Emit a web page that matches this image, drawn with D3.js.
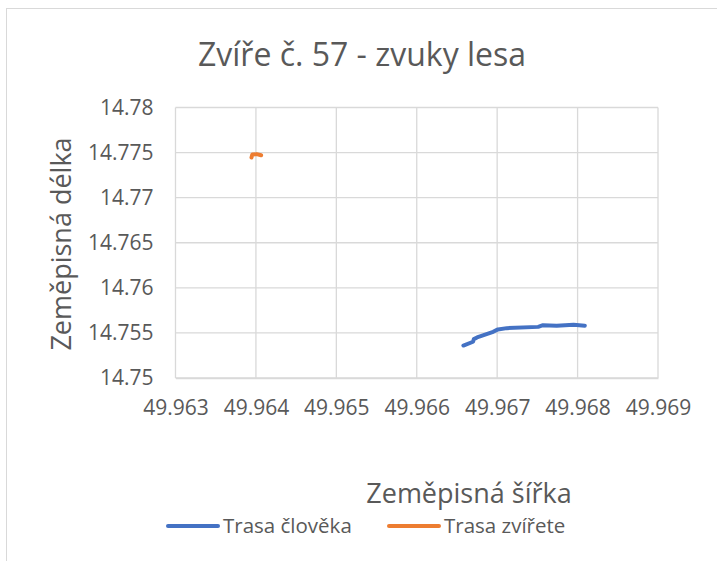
<!DOCTYPE html>
<html>
<head>
<meta charset="utf-8">
<script src="https://cdn.jsdelivr.net/npm/d3@7"></script>
<style>
body { margin:0; background:#fff; }
text { font-family:"Open Sans", sans-serif; fill:#595959; }
</style>
</head>
<body>
<svg id="chart"></svg>
<script>
//human track (latitude, longitude)
var humanLat = [49.96658, 49.96670, 49.96671, 49.96675, 49.96695, 49.96701, 49.96712, 49.96751, 49.96757, 49.96774, 49.96795, 49.96809]
var humanLon = [14.75360, 14.75402, 14.75431, 14.75450, 14.75512, 14.75539, 14.75553, 14.75567, 14.75586, 14.75579, 14.75590, 14.75580]

//animal track
var animalLat = [49.963945, 49.963955, 49.964010, 49.964065]
var animalLon = [14.77445, 14.77478, 14.77483, 14.77470]

//tick values
var xTicks = [49.963, 49.964, 49.965, 49.966, 49.967, 49.968, 49.969]
var yTicks = [14.75, 14.755, 14.76, 14.765, 14.77, 14.775, 14.78]

var seriesNames = ["Trasa člověka", "Trasa zvířete"]
var seriesColors = ["#4472C4", "#ED7D31"]

var screen = {width:717, height:561};
var margins = {top:107.5, left:175.5, right:59, bottom:183};
var graph =
{
    width:screen.width-margins.left-margins.right,
    height:screen.height-margins.top-margins.bottom
}

var svg = d3.select("#chart")
    .attr("width",screen.width)
    .attr("height",screen.height)

//outer chart border (right and bottom are off the picture)
svg.append("rect")
    .attr("x",6.5)
    .attr("y",8.5)
    .attr("width",900)
    .attr("height",900)
    .attr("fill","none")
    .attr("stroke","#d9d9d9")

var xScale = d3.scaleLinear()
    .domain([49.963,49.969])
    .range([0,graph.width])

var yScale = d3.scaleLinear()
    .domain([14.75,14.78])
    .range([graph.height,0])

var g = svg.append("g")
    .attr("transform","translate("+margins.left+","+margins.top+")")

//gridlines
g.append("g")
    .selectAll("line")
    .data(xTicks)
    .enter()
    .append("line")
    .attr("x1",function(d){return xScale(d)})
    .attr("x2",function(d){return xScale(d)})
    .attr("y1",0)
    .attr("y2",graph.height)
    .attr("stroke","#d9d9d9")
    .attr("stroke-width",1.3)

g.append("g")
    .selectAll("line")
    .data(yTicks)
    .enter()
    .append("line")
    .attr("x1",0)
    .attr("x2",graph.width)
    .attr("y1",function(d){return yScale(d)})
    .attr("y2",function(d){return yScale(d)})
    .attr("stroke","#d9d9d9")
    .attr("stroke-width",1.3)

//axes
var xAxis = d3.axisBottom(xScale)
    .tickValues(xTicks)
    .tickSize(0)
    .tickPadding(22)
    .tickFormat(d3.format(".3f"))

var yAxis = d3.axisLeft(yScale)
    .tickValues(yTicks)
    .tickSize(0)
    .tickPadding(22)
    .tickFormat(function(d){return String(+d.toFixed(3))})

var xg = g.append("g")
    .attr("transform","translate(0,"+graph.height+")")
    .call(xAxis)
xg.select(".domain").attr("stroke","#d9d9d9").attr("stroke-width",1.3)

var yg = g.append("g").call(yAxis)
yg.select(".domain").remove()

g.selectAll(".tick text")
    .style("font-family","'Open Sans', sans-serif")
    .style("font-size","21px")
    .attr("fill","#595959")

//tracks
var line = d3.line()
    .x(function(d){return xScale(d[0])})
    .y(function(d){return yScale(d[1])})

var tracks = [d3.zip(humanLat,humanLon), d3.zip(animalLat,animalLon)]

g.selectAll(".track")
    .data(tracks)
    .enter()
    .append("path")
    .attr("class","track")
    .attr("d",line)
    .attr("fill","none")
    .attr("stroke",function(d,i){return seriesColors[i]})
    .attr("stroke-width",4)
    .attr("stroke-linecap","round")
    .attr("stroke-linejoin","round")

//title
svg.append("text")
    .attr("x",362)
    .attr("y",66)
    .attr("text-anchor","middle")
    .style("font-size","32px")
    .text("Zvíře č. 57 - zvuky lesa")

//axis titles
svg.append("text")
    .attr("x",469)
    .attr("y",503)
    .attr("text-anchor","middle")
    .style("font-size","27px")
    .text("Zeměpisná šířka")

svg.append("text")
    .attr("transform","translate(71,244) rotate(-90)")
    .attr("text-anchor","middle")
    .style("font-size","27px")
    .text("Zeměpisná délka")

//legend
var legendX = [166, 387]
var legend = svg.selectAll(".legend")
    .data(seriesNames)
    .enter()
    .append("g")
    .attr("class","legend")
    .attr("transform",function(d,i){return "translate("+legendX[i]+",526)"})

legend.append("line")
    .attr("x1",2)
    .attr("x2",52)
    .attr("stroke",function(d,i){return seriesColors[i]})
    .attr("stroke-width",4)
    .attr("stroke-linecap","round")

legend.append("text")
    .attr("x",57)
    .attr("y",7)
    .style("font-size","20.5px")
    .text(function(d){return d})
</script>
</body>
</html>
